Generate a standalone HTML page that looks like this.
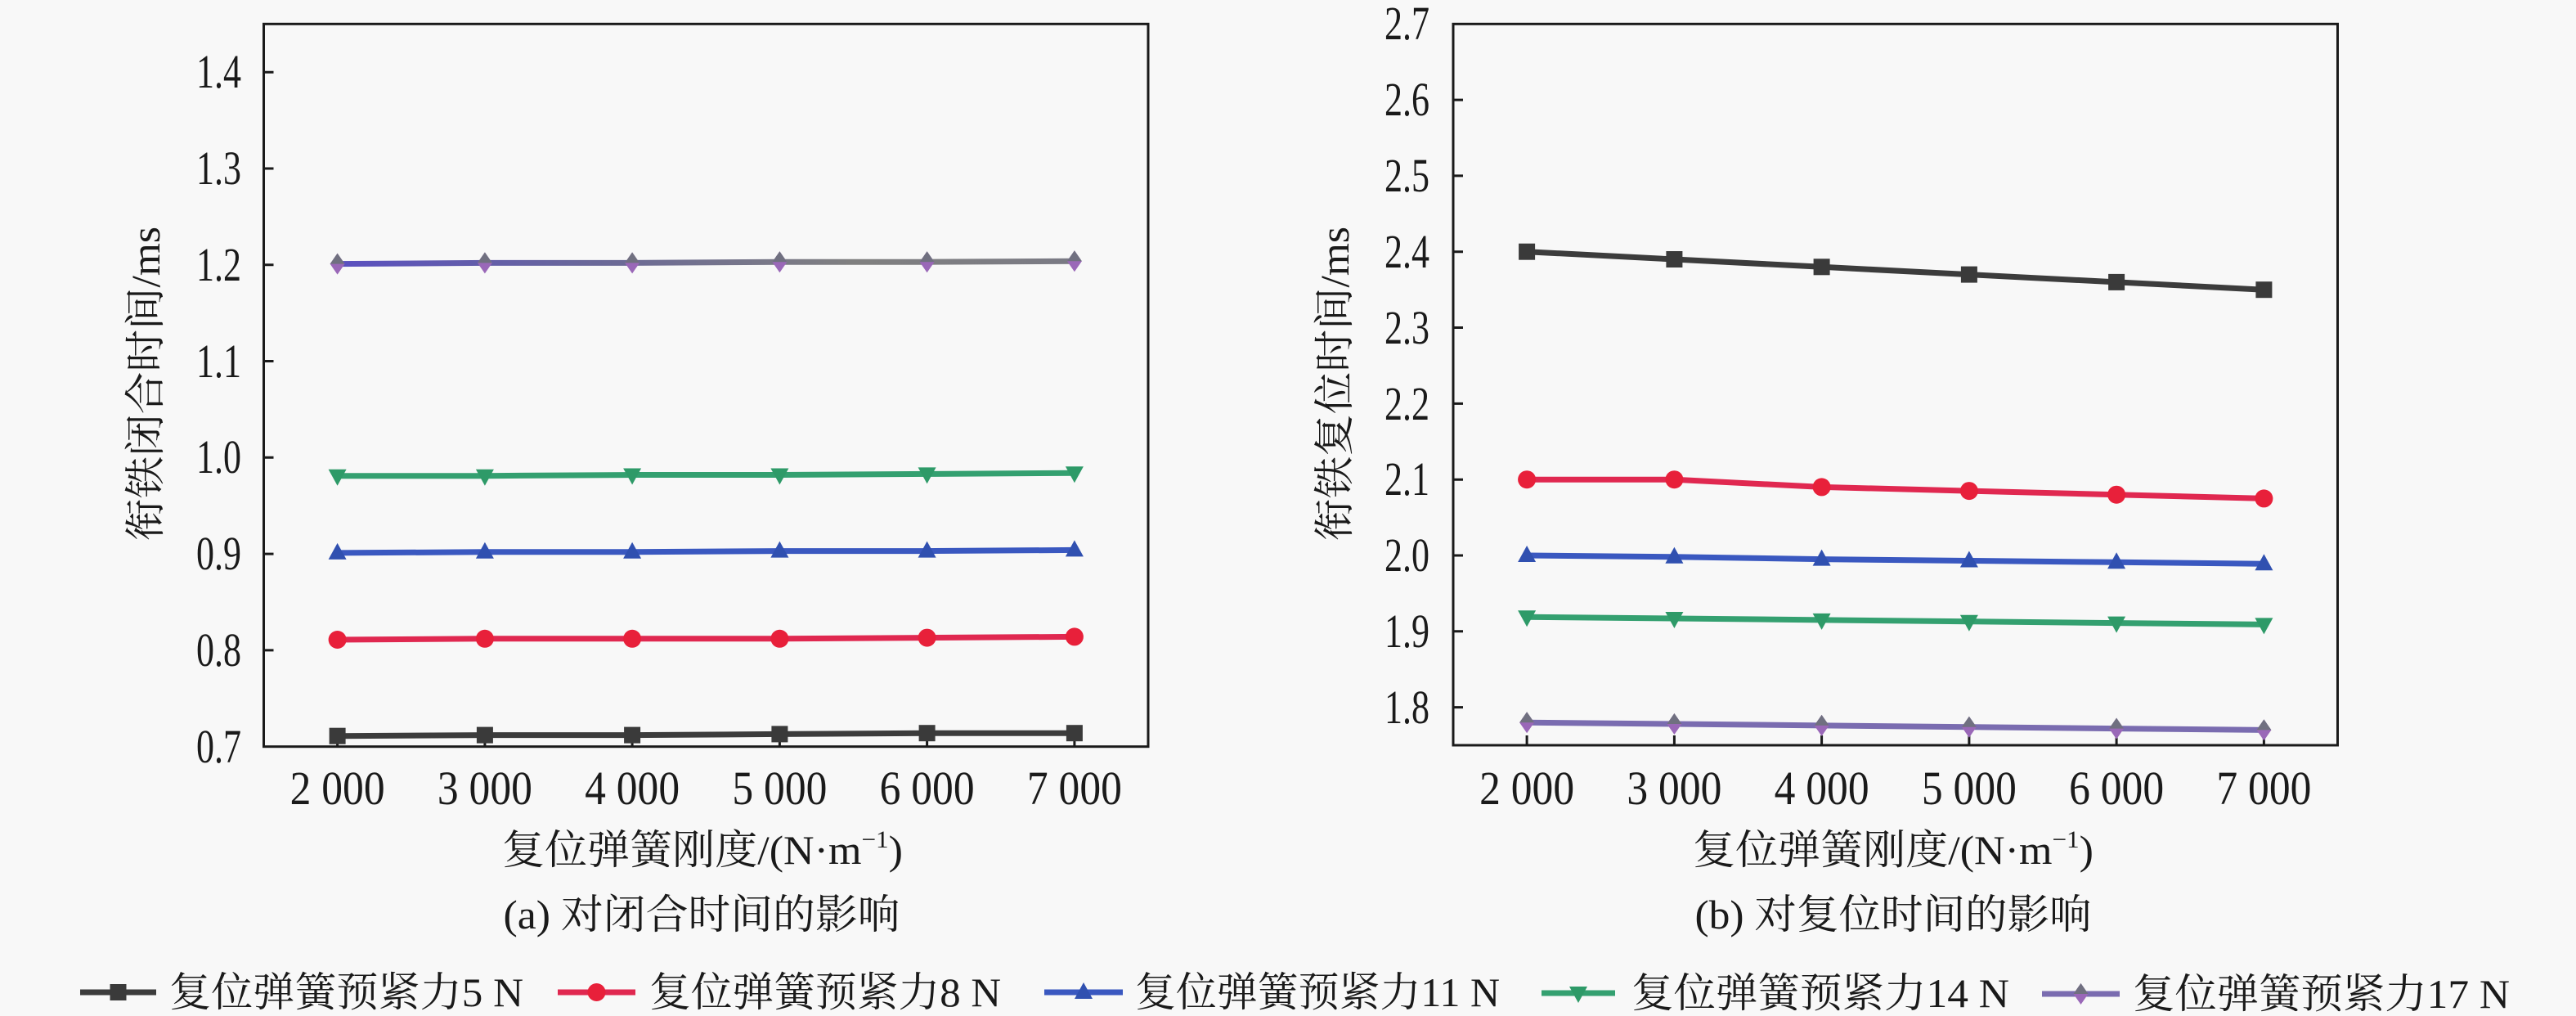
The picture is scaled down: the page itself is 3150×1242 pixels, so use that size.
<!DOCTYPE html>
<html><head><meta charset="utf-8"><style>
html,body{margin:0;padding:0;background:#f8f8f8;}
svg{display:block;}
text{font-family:"Liberation Serif","Noto Serif CJK SC",serif;fill:#1a1a1a;}
</style></head><body>
<svg width="3150" height="1242" viewBox="0 0 3150 1242" xmlns="http://www.w3.org/2000/svg">
<defs>
<g id="sq"><rect x="-10" y="-10" width="20" height="20" fill="#3a3a3a"/></g>
<g id="ci"><circle r="11" fill="#e8203a"/></g>
<g id="tu"><polygon points="0,-12 11,8 -11,8" fill="#3050b0"/></g>
<g id="td"><polygon points="-11,-8 11,-8 0,12" fill="#2e9a68"/></g>
<g id="di"><polygon points="0,-13 9,0 0,13 -9,0" fill="#9a68b8"/><polygon points="0,-13 9,0 -9,0" fill="#707080"/></g>
<linearGradient id="gp" x1="0" x2="1" y1="0" y2="0"><stop offset="0" stop-color="#5a50c0"/><stop offset="0.35" stop-color="#6a6898"/><stop offset="0.7" stop-color="#808080"/><stop offset="1" stop-color="#7a7a84"/></linearGradient>
</defs>
<rect width="3150" height="1242" fill="#f8f8f8"/>

<!-- LEFT PLOT -->
<g stroke="#1a1a1a" stroke-width="3" fill="none">
<rect x="322.5" y="29.3" width="1081.5" height="883.4"/>
<path d="M322.5 88.2h12M322.5 206h12M322.5 323.7h12M322.5 441.5h12M322.5 559.3h12M322.5 677.1h12M322.5 794.9h12"/>
<path d="M412.6 912.7v-12M592.9 912.7v-12M773.1 912.7v-12M953.4 912.7v-12M1133.6 912.7v-12M1313.9 912.7v-12"/>
</g>
<g font-size="58" text-anchor="end">
<text x="295" y="107" textLength="55" lengthAdjust="spacingAndGlyphs">1.4</text>
<text x="295" y="225" textLength="55" lengthAdjust="spacingAndGlyphs">1.3</text>
<text x="295" y="343" textLength="55" lengthAdjust="spacingAndGlyphs">1.2</text>
<text x="295" y="461" textLength="55" lengthAdjust="spacingAndGlyphs">1.1</text>
<text x="295" y="578" textLength="55" lengthAdjust="spacingAndGlyphs">1.0</text>
<text x="295" y="696" textLength="55" lengthAdjust="spacingAndGlyphs">0.9</text>
<text x="295" y="814" textLength="55" lengthAdjust="spacingAndGlyphs">0.8</text>
<text x="295" y="932" textLength="55" lengthAdjust="spacingAndGlyphs">0.7</text>
</g>
<g font-size="58" text-anchor="middle">
<text x="412.6" y="983" textLength="116" lengthAdjust="spacingAndGlyphs">2 000</text>
<text x="592.9" y="983" textLength="116" lengthAdjust="spacingAndGlyphs">3 000</text>
<text x="773.1" y="983" textLength="116" lengthAdjust="spacingAndGlyphs">4 000</text>
<text x="953.4" y="983" textLength="116" lengthAdjust="spacingAndGlyphs">5 000</text>
<text x="1133.6" y="983" textLength="116" lengthAdjust="spacingAndGlyphs">6 000</text>
<text x="1313.9" y="983" textLength="116" lengthAdjust="spacingAndGlyphs">7 000</text>
</g>
<g fill="none" stroke-width="7" stroke-linejoin="round">
<polyline stroke="#3c3c3c" points="412.6,899.7 592.9,898.6 773.1,898.6 953.4,897.4 1133.6,896.2 1313.9,896.2"/>
<polyline stroke="#e02850" points="412.6,782 592.9,780.8 773.1,780.8 953.4,780.8 1133.6,779.6 1313.9,778.4"/>
<polyline stroke="#3a58c0" points="412.6,675.9 592.9,674.8 773.1,674.8 953.4,673.6 1133.6,673.6 1313.9,672.4"/>
<polyline stroke="#34a070" points="412.6,581.7 592.9,581.7 773.1,580.5 953.4,580.5 1133.6,579.4 1313.9,578.2"/>
<polyline stroke="url(#gp)" points="412.6,322.6 592.9,321.4 773.1,321.4 953.4,320.2 1133.6,320.2 1313.9,319.2"/>
</g>
<use href="#sq" x="412.6" y="899.7"/><use href="#sq" x="592.9" y="898.6"/><use href="#sq" x="773.1" y="898.6"/><use href="#sq" x="953.4" y="897.4"/><use href="#sq" x="1133.6" y="896.2"/><use href="#sq" x="1313.9" y="896.2"/>
<use href="#ci" x="412.6" y="782"/><use href="#ci" x="592.9" y="780.8"/><use href="#ci" x="773.1" y="780.8"/><use href="#ci" x="953.4" y="780.8"/><use href="#ci" x="1133.6" y="779.6"/><use href="#ci" x="1313.9" y="778.4"/>
<use href="#tu" x="412.6" y="675.9"/><use href="#tu" x="592.9" y="674.8"/><use href="#tu" x="773.1" y="674.8"/><use href="#tu" x="953.4" y="673.6"/><use href="#tu" x="1133.6" y="673.6"/><use href="#tu" x="1313.9" y="672.4"/>
<use href="#td" x="412.6" y="581.7"/><use href="#td" x="592.9" y="581.7"/><use href="#td" x="773.1" y="580.5"/><use href="#td" x="953.4" y="580.5"/><use href="#td" x="1133.6" y="579.4"/><use href="#td" x="1313.9" y="578.2"/>
<use href="#di" x="412.6" y="322.6"/><use href="#di" x="592.9" y="321.4"/><use href="#di" x="773.1" y="321.4"/><use href="#di" x="953.4" y="320.2"/><use href="#di" x="1133.6" y="320.2"/><use href="#di" x="1313.9" y="319.2"/>

<text transform="translate(178,469) rotate(-90)" font-size="50" text-anchor="middle" dominant-baseline="central" textLength="384" lengthAdjust="spacingAndGlyphs">衔铁闭合时间/ms</text>
<text x="859" y="1056" font-size="50" text-anchor="middle" textLength="490" lengthAdjust="spacingAndGlyphs">复位弹簧刚度/(N·m<tspan font-size="30" dy="-20">−1</tspan><tspan dy="20">)</tspan></text>
<text x="858" y="1135" font-size="50" text-anchor="middle" textLength="485" lengthAdjust="spacingAndGlyphs">(a) 对闭合时间的影响</text>

<!-- RIGHT PLOT -->
<g stroke="#1a1a1a" stroke-width="3" fill="none">
<rect x="1777" y="29.3" width="1081.5" height="881.7"/>
<path d="M1777 122.1h12M1777 214.9h12M1777 307.7h12M1777 400.5h12M1777 493.4h12M1777 586.2h12M1777 679h12M1777 771.8h12M1777 864.6h12"/>
<path d="M1867.1 911v-12M2047.4 911v-12M2227.6 911v-12M2407.9 911v-12M2588.1 911v-12M2768.4 911v-12"/>
</g>
<g font-size="58" text-anchor="end">
<text x="1748" y="48" textLength="55" lengthAdjust="spacingAndGlyphs">2.7</text>
<text x="1748" y="141" textLength="55" lengthAdjust="spacingAndGlyphs">2.6</text>
<text x="1748" y="234" textLength="55" lengthAdjust="spacingAndGlyphs">2.5</text>
<text x="1748" y="327" textLength="55" lengthAdjust="spacingAndGlyphs">2.4</text>
<text x="1748" y="420" textLength="55" lengthAdjust="spacingAndGlyphs">2.3</text>
<text x="1748" y="513" textLength="55" lengthAdjust="spacingAndGlyphs">2.2</text>
<text x="1748" y="605" textLength="55" lengthAdjust="spacingAndGlyphs">2.1</text>
<text x="1748" y="698" textLength="55" lengthAdjust="spacingAndGlyphs">2.0</text>
<text x="1748" y="791" textLength="55" lengthAdjust="spacingAndGlyphs">1.9</text>
<text x="1748" y="884" textLength="55" lengthAdjust="spacingAndGlyphs">1.8</text>
</g>
<g font-size="58" text-anchor="middle">
<text x="1867.1" y="983" textLength="116" lengthAdjust="spacingAndGlyphs">2 000</text>
<text x="2047.4" y="983" textLength="116" lengthAdjust="spacingAndGlyphs">3 000</text>
<text x="2227.6" y="983" textLength="116" lengthAdjust="spacingAndGlyphs">4 000</text>
<text x="2407.9" y="983" textLength="116" lengthAdjust="spacingAndGlyphs">5 000</text>
<text x="2588.1" y="983" textLength="116" lengthAdjust="spacingAndGlyphs">6 000</text>
<text x="2768.4" y="983" textLength="116" lengthAdjust="spacingAndGlyphs">7 000</text>
</g>
<g fill="none" stroke-width="7" stroke-linejoin="round">
<polyline stroke="#3c3c3c" points="1867.1,307.7 2047.4,317 2227.6,326.3 2407.9,335.6 2588.1,344.9 2768.4,354.2"/>
<polyline stroke="#e02850" points="1867.1,586.2 2047.4,586.2 2227.6,595.4 2407.9,600.1 2588.1,604.7 2768.4,609.4"/>
<polyline stroke="#3a58c0" points="1867.1,679 2047.4,680.8 2227.6,683.6 2407.9,685.5 2588.1,687.3 2768.4,689.2"/>
<polyline stroke="#34a070" points="1867.1,754.2 2047.4,756 2227.6,757.9 2407.9,759.7 2588.1,761.6 2768.4,763.4"/>
<polyline stroke="#7a6cb0" points="1867.1,883.2 2047.4,885 2227.6,886.9 2407.9,888.7 2588.1,890.6 2768.4,892.4"/>
</g>
<use href="#sq" x="1867.1" y="307.7"/><use href="#sq" x="2047.4" y="317"/><use href="#sq" x="2227.6" y="326.3"/><use href="#sq" x="2407.9" y="335.6"/><use href="#sq" x="2588.1" y="344.9"/><use href="#sq" x="2768.4" y="354.2"/>
<use href="#ci" x="1867.1" y="586.2"/><use href="#ci" x="2047.4" y="586.2"/><use href="#ci" x="2227.6" y="595.4"/><use href="#ci" x="2407.9" y="600.1"/><use href="#ci" x="2588.1" y="604.7"/><use href="#ci" x="2768.4" y="609.4"/>
<use href="#tu" x="1867.1" y="679"/><use href="#tu" x="2047.4" y="680.8"/><use href="#tu" x="2227.6" y="683.6"/><use href="#tu" x="2407.9" y="685.5"/><use href="#tu" x="2588.1" y="687.3"/><use href="#tu" x="2768.4" y="689.2"/>
<use href="#td" x="1867.1" y="754.2"/><use href="#td" x="2047.4" y="756"/><use href="#td" x="2227.6" y="757.9"/><use href="#td" x="2407.9" y="759.7"/><use href="#td" x="2588.1" y="761.6"/><use href="#td" x="2768.4" y="763.4"/>
<use href="#di" x="1867.1" y="883.2"/><use href="#di" x="2047.4" y="885"/><use href="#di" x="2227.6" y="886.9"/><use href="#di" x="2407.9" y="888.7"/><use href="#di" x="2588.1" y="890.6"/><use href="#di" x="2768.4" y="892.4"/>

<text transform="translate(1632,469) rotate(-90)" font-size="50" text-anchor="middle" dominant-baseline="central" textLength="384" lengthAdjust="spacingAndGlyphs">衔铁复位时间/ms</text>
<text x="2315" y="1056" font-size="50" text-anchor="middle" textLength="490" lengthAdjust="spacingAndGlyphs">复位弹簧刚度/(N·m<tspan font-size="30" dy="-20">−1</tspan><tspan dy="20">)</tspan></text>
<text x="2315" y="1135" font-size="50" text-anchor="middle" textLength="485" lengthAdjust="spacingAndGlyphs">(b) 对复位时间的影响</text>

<!-- LEGEND -->
<g stroke-width="7">
<line x1="98" y1="1213" x2="191" y2="1213" stroke="#3c3c3c"/>
<line x1="682" y1="1213" x2="777" y2="1213" stroke="#e02850"/>
<line x1="1277" y1="1213" x2="1373" y2="1213" stroke="#3a58c0"/>
<line x1="1885" y1="1214" x2="1975" y2="1214" stroke="#34a070"/>
<line x1="2497" y1="1215" x2="2592" y2="1215" stroke="#7a6cb0"/>
</g>
<use href="#sq" x="144.5" y="1213"/>
<use href="#ci" x="729.5" y="1213"/>
<use href="#tu" x="1325" y="1213"/>
<use href="#td" x="1930" y="1214"/>
<use href="#di" x="2544.5" y="1215"/>
<g font-size="50">
<text x="207" y="1230" textLength="433" lengthAdjust="spacingAndGlyphs">复位弹簧预紧力5 N</text>
<text x="794" y="1230" textLength="430" lengthAdjust="spacingAndGlyphs">复位弹簧预紧力8 N</text>
<text x="1388" y="1230" textLength="446" lengthAdjust="spacingAndGlyphs">复位弹簧预紧力11 N</text>
<text x="1995" y="1231" textLength="462" lengthAdjust="spacingAndGlyphs">复位弹簧预紧力14 N</text>
<text x="2608" y="1232" textLength="461" lengthAdjust="spacingAndGlyphs">复位弹簧预紧力17 N</text>
</g>
</svg>
</body></html>
